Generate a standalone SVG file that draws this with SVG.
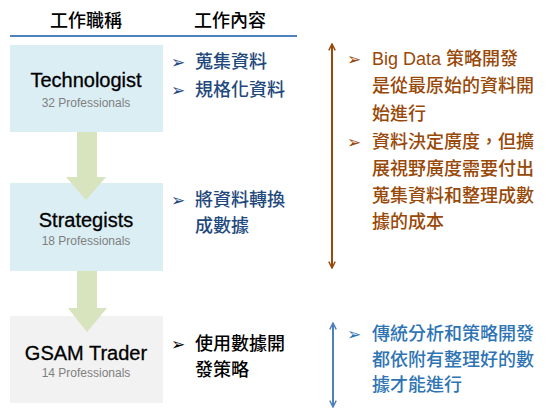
<svg xmlns="http://www.w3.org/2000/svg" width="555" height="415" viewBox="0 0 555 415">
<style>
.hdr{font-family:"Noto Sans CJK TC","Noto Sans CJK SC",sans-serif;font-size:18px;font-weight:500;fill:#000;text-anchor:middle}
.title{font-family:"Liberation Sans","Open Sans",sans-serif;font-size:20px;fill:#000;text-anchor:middle;stroke:#000;stroke-width:0.3}
.sub{font-family:"Liberation Sans","Open Sans",sans-serif;font-size:12px;fill:#7F7F7F;text-anchor:middle}
.cjk{font-family:"Liberation Sans","Noto Sans CJK TC",sans-serif;font-size:18px;font-weight:500}
.bul{font-family:"DejaVu Sans",sans-serif;font-size:17px}
.navy{fill:#1F497D}
.black{fill:#000}
.brown{fill:#984807}
.blue{fill:#2E74B5}
.arrowfill{fill:#D7E4BD}
</style>
<defs>
<marker id="hb" viewBox="0 0 10 10" refX="9" refY="5" markerWidth="8" markerHeight="10" orient="auto-start-reverse" markerUnits="userSpaceOnUse">
<path d="M1,1 L9,5 L1,9" fill="none" stroke="#984807" stroke-width="1.8"/>
</marker>
<marker id="hl" viewBox="0 0 10 10" refX="9" refY="5" markerWidth="8" markerHeight="10" orient="auto-start-reverse" markerUnits="userSpaceOnUse">
<path d="M1,1 L9,5 L1,9" fill="none" stroke="#4F81BD" stroke-width="1.8"/>
</marker>
</defs>
<rect width="555" height="415" fill="#fff"/>
<g id="header">
<text class="hdr" x="86" y="27">工作職稱</text>
<text class="hdr" x="230" y="27">工作內容</text>
<line x1="10" y1="36" x2="297" y2="36" stroke="#4F81BD" stroke-width="2"/>
</g>
<g id="technologist">
<rect x="10" y="45" width="153" height="87" fill="#DBEEF4"/>
<text class="title" x="86" y="87">Technologist</text>
<text class="sub" x="86" y="107">32 Professionals</text>
</g>
<g id="strategists">
<rect x="10" y="183" width="153" height="88" fill="#DBEEF4"/>
<text class="title" x="86" y="227">Strategists</text>
<text class="sub" x="86" y="245">18 Professionals</text>
</g>
<g id="gsam">
<rect x="10" y="316" width="153" height="87" fill="#F2F2F2"/>
<text class="title" x="86" y="360">GSAM Trader</text>
<text class="sub" x="86" y="377">14 Professionals</text>
</g>
<g id="connectors">
<polygon class="arrowfill" points="77,132 97,132 97,177 106,177 86,200 66,177 77,177"/>
<polygon class="arrowfill" points="77,271 97,271 97,308 107,308 87,332 68,308 77,308"/>
<line x1="332" y1="44" x2="332" y2="268" stroke="#984807" stroke-width="2" marker-start="url(#hb)" marker-end="url(#hb)"/>
<line x1="333" y1="323" x2="333" y2="407" stroke="#4F81BD" stroke-width="2" marker-start="url(#hl)" marker-end="url(#hl)"/>
</g>
<g id="tasks-tech">
<text class="bul navy" x="171" y="68">➢</text>
<text class="cjk navy" x="195" y="68">蒐集資料</text>
<text class="bul navy" x="171" y="96">➢</text>
<text class="cjk navy" x="195" y="96">規格化資料</text>
</g>
<g id="tasks-strat">
<text class="bul navy" x="171" y="206">➢</text>
<text class="cjk navy" x="195" y="206">將資料轉換</text>
<text class="cjk navy" x="195" y="232">成數據</text>
</g>
<g id="tasks-gsam">
<text class="bul black" x="171" y="350">➢</text>
<text class="cjk black" x="195" y="350">使用數據開</text>
<text class="cjk black" x="195" y="376">發策略</text>
</g>
<g id="note-brown">
<text class="bul brown" x="347" y="65">➢</text>
<text class="cjk brown" x="372" y="65">Big Data 策略開發</text>
<text class="cjk brown" x="372" y="92">是從最原始的資料開</text>
<text class="cjk brown" x="372" y="120">始進行</text>
<text class="bul brown" x="347" y="148">➢</text>
<text class="cjk brown" x="372" y="148">資料決定廣度，但擴</text>
<text class="cjk brown" x="372" y="175">展視野廣度需要付出</text>
<text class="cjk brown" x="372" y="202">蒐集資料和整理成數</text>
<text class="cjk brown" x="372" y="228">據的成本</text>
</g>
<g id="note-blue">
<text class="bul blue" x="347" y="340">➢</text>
<text class="cjk blue" x="372" y="340">傳統分析和策略開發</text>
<text class="cjk blue" x="372" y="366">都依附有整理好的數</text>
<text class="cjk blue" x="372" y="391">據才能進行</text>
</g>
</svg>
